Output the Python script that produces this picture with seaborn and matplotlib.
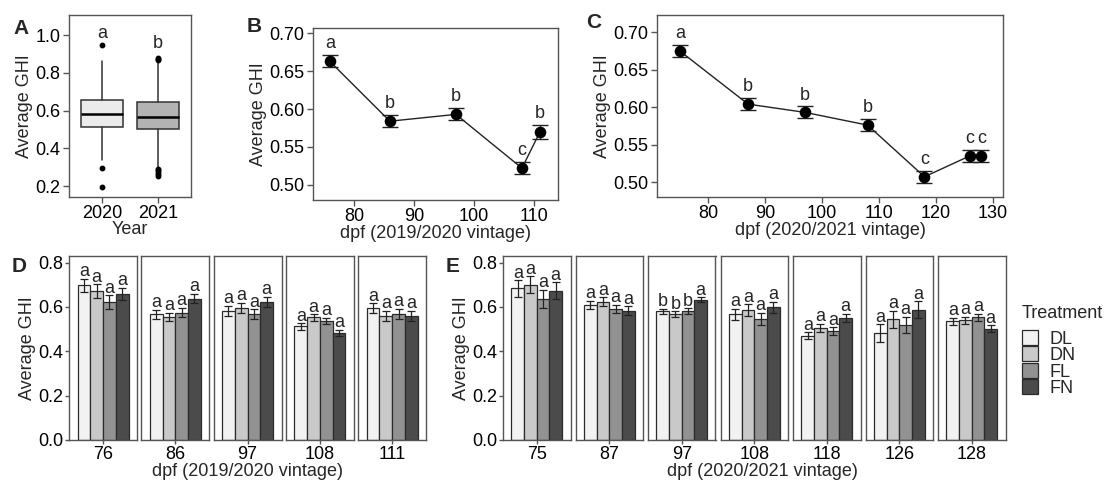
import numpy as np
import pandas as pd
import matplotlib
matplotlib.use("Agg")
import matplotlib.pyplot as plt
import seaborn as sns
from matplotlib.patches import Patch

# ---------------- data ----------------
# Panel A (box statistics per year)
years = ["2020", "2021"]
box_med = [0.579, 0.566]
box_q1 = [0.513, 0.503]
box_q3 = [0.657, 0.646]
box_wlo = [0.337, 0.300]
box_whi = [0.865, 0.862]
fliers_2020 = [0.945, 0.295, 0.193]
fliers_2021 = [0.868, 0.874, 0.880, 0.292, 0.283, 0.272, 0.262, 0.252]
box_letters = ["a", "b"]
box_letter_y = [1.01, 0.955]

# Panel B
b_dpf = [76, 86, 97, 108, 111]
b_ghi = [0.663, 0.584, 0.593, 0.522, 0.570]
b_se = [0.008, 0.008, 0.008, 0.008, 0.009]
b_letters = ["a", "b", "b", "c", "b"]

# Panel C
c_dpf = [75, 87, 97, 108, 118, 126, 128]
c_ghi = [0.675, 0.604, 0.593, 0.576, 0.507, 0.535, 0.535]
c_se = [0.008, 0.008, 0.008, 0.008, 0.008, 0.008, 0.008]
c_letters = ["a", "b", "b", "b", "c", "c", "c"]

# Panels D / E (treatments)
treatments = ["DL", "DN", "FL", "FN"]
d_dpf = ["76", "86", "97", "108", "111"]
d_ghi = [
    [0.697, 0.672, 0.622, 0.658],
    [0.568, 0.555, 0.575, 0.638],
    [0.583, 0.597, 0.568, 0.623],
    [0.512, 0.553, 0.538, 0.482],
    [0.594, 0.560, 0.570, 0.560],
]
d_se = [
    [0.030, 0.030, 0.030, 0.028],
    [0.020, 0.020, 0.021, 0.020],
    [0.022, 0.022, 0.022, 0.022],
    [0.015, 0.014, 0.014, 0.014],
    [0.022, 0.022, 0.022, 0.022],
]
d_letters = [["a"] * 4] * 5

e_dpf = ["75", "87", "97", "108", "118", "126", "128"]
e_ghi = [
    [0.684, 0.700, 0.637, 0.673],
    [0.609, 0.624, 0.590, 0.584],
    [0.581, 0.569, 0.581, 0.633],
    [0.567, 0.586, 0.547, 0.598],
    [0.470, 0.505, 0.491, 0.551],
    [0.482, 0.545, 0.518, 0.587],
    [0.536, 0.541, 0.553, 0.502],
]
e_se = [
    [0.037, 0.038, 0.040, 0.038],
    [0.018, 0.019, 0.019, 0.019],
    [0.012, 0.012, 0.013, 0.011],
    [0.025, 0.026, 0.026, 0.025],
    [0.016, 0.018, 0.018, 0.018],
    [0.040, 0.038, 0.037, 0.038],
    [0.015, 0.016, 0.015, 0.016],
]
e_letters = [["a"] * 4, ["a"] * 4, ["b", "b", "b", "a"], ["a"] * 4,
             ["a"] * 4, ["a"] * 4, ["a"] * 4]

palette = ["#F2F2F2", "#C9C9C9", "#929292", "#4B4B4B"]

# ---------------- style ----------------
sns.set_theme(style="white")
plt.rcParams['font.family'] = ['Liberation Sans', 'DejaVu Sans']
TICK = 13
TITLE = 13
LET = 13
BORDER = "#555555"

W, H = 1107, 482
fig = plt.figure(figsize=(W / 100, H / 100), dpi=100)


def add_ax(x0, y0, x1, y1):
    return fig.add_axes([x0 / W, 1 - y1 / H, (x1 - x0) / W, (y1 - y0) / H])


def style(ax, yticks=True, length=4, pad=2):
    for s in ax.spines.values():
        s.set_visible(True)
        s.set_color(BORDER)
        s.set_linewidth(1.0)
    ax.tick_params(axis="both", direction="out", length=length, width=1,
                   color=BORDER, labelsize=TICK, labelcolor="black", pad=pad,
                   left=yticks, bottom=True, labelleft=yticks)
    ax.grid(False)
    ax.set_facecolor("white")


def panel_label(x, y, s):
    fig.text(x / W, 1 - y / H, s, fontsize=15, fontweight="bold",
             ha="center", va="center")


yfmt = lambda v: f"{v:.1f}"
yfmt2 = lambda v: f"{v:.2f}"

# ---------------- Panel A ----------------
axA = add_ax(69, 15, 191, 197)
stats = []
for i, fl in enumerate([fliers_2020, fliers_2021]):
    stats.append(dict(med=box_med[i], q1=box_q1[i], q3=box_q3[i],
                      whislo=box_wlo[i], whishi=box_whi[i], fliers=fl))
bp = axA.bxp(stats, positions=[1, 2], widths=0.75, patch_artist=True,
             showcaps=False,
             boxprops=dict(edgecolor="#333333", linewidth=1.1),
             whiskerprops=dict(color="#333333", linewidth=1.1),
             medianprops=dict(color="black", linewidth=1.8),
             flierprops=dict(marker="o", markerfacecolor="black",
                             markeredgecolor="black", markersize=3.2))
for patch, col in zip(bp["boxes"], ["#EBEBEB", "#B3B3B3"]):
    patch.set_facecolor(col)
for i, (lt, ly) in enumerate(zip(box_letters, box_letter_y)):
    axA.text(i + 1, ly, lt, ha="center", va="center", fontsize=LET)
axA.set_xlim(0.4, 2.6)
axA.set_ylim(0.142, 1.106)
axA.set_xticks([1, 2])
axA.set_xticklabels(years)
axA.set_yticks([0.2, 0.4, 0.6, 0.8, 1.0])
axA.set_yticklabels([yfmt(v) for v in [0.2, 0.4, 0.6, 0.8, 1.0]])
axA.set_xlabel("Year", fontsize=TITLE, labelpad=-1)
axA.set_ylabel("Average GHI", fontsize=TITLE, labelpad=2)
style(axA)
panel_label(21, 28, "A")


# ---------------- Panels B and C ----------------
def line_panel(ax, x, y, se, letters, xlim, ylim, xticks, xlabel):
    df = pd.DataFrame({"dpf": x, "ghi": y, "se": se})
    sns.lineplot(data=df, x="dpf", y="ghi", color="#222222", linewidth=1.0,
                 ax=ax, zorder=2)
    ax.errorbar(df["dpf"], df["ghi"], yerr=df["se"], fmt="none",
                ecolor="#222222", elinewidth=1.0, capsize=6, capthick=1.0,
                zorder=3)
    sns.scatterplot(data=df, x="dpf", y="ghi", color="black", s=70,
                    edgecolor="black", linewidth=0, ax=ax, zorder=4)
    for xi, yi, si, lt in zip(x, y, se, letters):
        ax.text(xi, yi + si + 0.009, lt, ha="center", va="baseline",
                fontsize=LET)
    ax.set_xlim(*xlim)
    ax.set_ylim(*ylim)
    ax.set_xticks(xticks)
    ax.set_yticks([0.50, 0.55, 0.60, 0.65, 0.70])
    ax.set_yticklabels([yfmt2(v) for v in [0.50, 0.55, 0.60, 0.65, 0.70]])
    ax.set_xlabel(xlabel, fontsize=TITLE, labelpad=0)
    ax.set_ylabel("Average GHI", fontsize=TITLE, labelpad=2)
    style(ax)


axB = add_ax(313, 28, 558, 200)
line_panel(axB, b_dpf, b_ghi, b_se, b_letters, (73.2, 114.0), (0.480, 0.707),
           [80, 90, 100, 110], "dpf (2019/2020 vintage)")
panel_label(254, 27, "B")

axC = add_ax(657, 15, 1003, 197)
line_panel(axC, c_dpf, c_ghi, c_se, c_letters, (71.0, 131.8), (0.480, 0.723),
           [80, 90, 100, 110, 120, 130], "dpf (2020/2021 vintage)")
panel_label(594, 22, "C")


# ---------------- Panels D and E ----------------
def bar_facets(x0, step, width, dpfs, vals, ses, letters, xlabel, xlabel_x):
    axes = []
    for k, (d, v, s, lts) in enumerate(zip(dpfs, vals, ses, letters)):
        left = x0 + k * step
        ax = add_ax(left, 256, left + width, 440)
        df = pd.DataFrame({"dpf": [d] * 4, "trt": treatments, "ghi": v})
        sns.barplot(data=df, x="dpf", y="ghi", hue="trt",
                    hue_order=treatments, palette=palette, width=0.9,
                    errorbar=None, edgecolor="#2b2b2b", linewidth=0.9,
                    legend=False, ax=ax, zorder=2)
        bars = ax.patches[:4]
        cx = [b.get_x() + b.get_width() / 2 for b in bars]
        ax.errorbar(cx, v, yerr=s, fmt="none", ecolor="#222222",
                    elinewidth=0.9, capsize=3.2, capthick=0.9, zorder=3)
        for xi, yi, si, lt in zip(cx, v, s, lts):
            ax.text(xi, yi + si + 0.012, lt, ha="center", va="baseline",
                    fontsize=LET)
        ax.set_xlim(-0.6, 0.6)
        ax.set_ylim(0, 0.83)
        ax.set_xlabel("")
        ax.set_ylabel("")
        first = k == 0
        if first:
            ax.set_yticks([0.0, 0.2, 0.4, 0.6, 0.8])
            ax.set_yticklabels([yfmt(t) for t in [0.0, 0.2, 0.4, 0.6, 0.8]])
            ax.set_ylabel("Average GHI", fontsize=TITLE, labelpad=2)
        else:
            ax.set_yticks([])
        style(ax, yticks=first, length=3, pad=1)
        axes.append(ax)
    fig.text(xlabel_x / W, 1 - 472 / H, xlabel, fontsize=TITLE,
             ha="center", va="center")
    return axes


bar_facets(69, 72.3, 68, d_dpf, d_ghi, d_se, d_letters,
           "dpf (2019/2020 vintage)", 247)
panel_label(19, 267, "D")

bar_facets(503, 72.5, 67.5, e_dpf, e_ghi, e_se, e_letters,
           "dpf (2020/2021 vintage)", 762)
panel_label(453, 266, "E")

# legend
fig.text(1022 / W, 1 - 313 / H, "Treatment", fontsize=TITLE,
         ha="left", va="center")
handles = [Patch(facecolor=c, edgecolor="#2b2b2b", linewidth=0.9)
           for c in palette]
leg = fig.legend(handles, treatments,
                 loc="upper left", bbox_to_anchor=(1022 / W, 1 - 330 / H),
                 frameon=False, fontsize=TICK,
                 handlelength=0.9, handleheight=0.9, labelspacing=-0.07,
                 handletextpad=0.6, borderpad=0, borderaxespad=0)

fig.savefig("out.png", dpi=100, facecolor="white")
